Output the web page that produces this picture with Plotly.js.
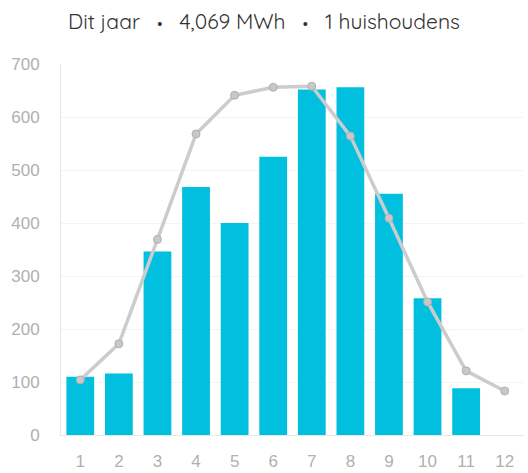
<!DOCTYPE html>
<html>
<head>
<meta charset="utf-8">
<script src="https://cdn.plot.ly/plotly-3.0.1.min.js"></script>
<style>html,body{margin:0;padding:0;background:#fff;}#chart{width:528px;height:473px;}</style>
</head>
<body>
<div id="chart"></div>
<script>
const months = ["1","2","3","4","5","6","7","8","9","10","11","12"];
const barValues = [110, 116, 346, 468, 400, 525, 652, 656, 455, 258, 88, null];
const lineValues = [104, 172, 369, 568, 641, 656, 658, 564, 409, 251, 121, 83];
const yTicks = [0, 100, 200, 300, 400, 500, 600, 700];
const dot = "\u00a0\u00a0<span style='font-size:15px'>\u2022</span>\u00a0\u00a0";
const titleText = "Dit jaar " + dot + " 4,069 MWh " + dot + " 1 huishoudens";

const data = [
  {
    type: "bar",
    x: months,
    y: barValues,
    marker: {color: "#00bfdf"},
    hoverinfo: "none"
  },
  {
    type: "scatter",
    mode: "lines+markers",
    x: months,
    y: lineValues,
    line: {color: "#cccccc", width: 3.5},
    marker: {color: "#c8c8c8", size: 8, line: {color: "#b0b0b0", width: 1}},
    hoverinfo: "none"
  }
];

const layout = {
  width: 528,
  height: 473,
  margin: {l: 61, r: 4, t: 64, b: 38},
  paper_bgcolor: "#fff",
  plot_bgcolor: "#fff",
  showlegend: false,
  bargap: 0.28,
  font: {family: "'Liberation Sans', Arial, sans-serif", color: "#aaaaaa", size: 17},
  title: {
    text: titleText,
    x: 0.5, xanchor: "center",
    y: 0.955, yanchor: "middle",
    font: {family: "Quicksand, Nunito, 'Noto Sans', sans-serif", size: 21, color: "#333333"}
  },
  xaxis: {
    type: "category",
    range: [-0.5, 11.5],
    showgrid: false,
    showline: true,
    linecolor: "#e8e8e8",
    linewidth: 1,
    zeroline: false,
    ticks: "",
    ticklabelstandoff: 11,
    tickfont: {family: "'Liberation Sans', Arial, sans-serif", size: 17, color: "#b0b0b0"}
  },
  yaxis: {
    range: [0, 700],
    tickvals: yTicks,
    ticktext: yTicks.map(String),
    showgrid: true,
    gridcolor: "#f4f4f4",
    showline: true,
    linecolor: "#e8e8e8",
    linewidth: 1,
    zeroline: false,
    ticks: "",
    ticklabelstandoff: 17,
    tickfont: {family: "'Liberation Sans', Arial, sans-serif", size: 17, color: "#b0b0b0"}
  }
};

Plotly.newPlot("chart", data, layout, {displayModeBar: false, staticPlot: true});
</script>
</body>
</html>
